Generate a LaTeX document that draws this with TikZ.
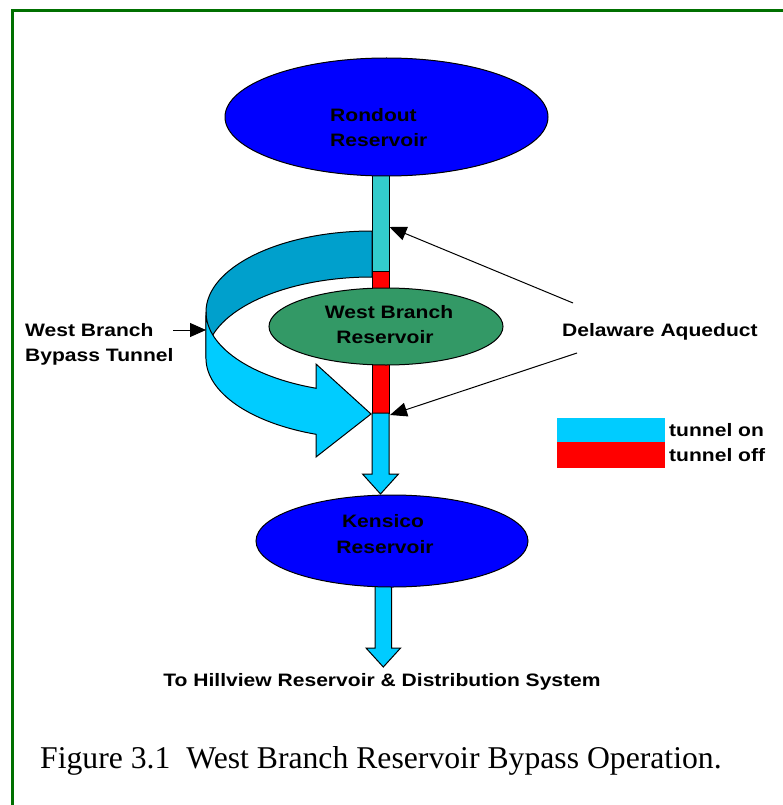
\documentclass[tikz,border=0pt]{standalone}
\usepackage{fontspec}
\setmainfont{Liberation Serif}
\newfontfamily\dfont[FakeStretch=1.17]{Liberation Sans}
\usetikzlibrary{shapes.geometric,arrows.meta}
\definecolor{frameg}{RGB}{0,112,0}
\definecolor{rblue}{RGB}{0,0,255}
\definecolor{wbgreen}{RGB}{51,153,102}
\definecolor{tealseg}{RGB}{51,204,204}
\definecolor{tcyan}{RGB}{0,204,255}
\definecolor{tback}{RGB}{0,160,204}
\definecolor{toff}{RGB}{255,0,0}
\tikzset{
  lbl/.style={font=\dfont\bfseries\fontsize{18}{20}\selectfont, inner sep=0pt, anchor=base west},
  lblc/.style={lbl, anchor=base},
  res/.style={ellipse, draw, line width=1pt, inner sep=0pt},
  seg/.style={draw, line width=1pt, line join=miter},
  ptr/.style={line width=1pt, -{Triangle[length=17pt,width=14pt]}},
}
\begin{document}
\begin{tikzpicture}[x=1pt,y=-1pt]
\useasboundingbox (0,0) rectangle (783,805);
\fill[white] (0,0) rectangle (783,805);
\draw[frameg, line width=3pt] (12,830) -- (12,10.5) -- (800,10.5);

% tunnel segments
\draw[seg, fill=tealseg] (372,170) rectangle (389,271);
\draw[seg, fill=toff] (372,271) rectangle (389,292);
\draw[seg, fill=toff] (372,360) rectangle (389,413);
% down arrow to Kensico
\draw[seg, fill=tcyan] (372,413) -- (372,474) -- (362.5,474) -- (380.5,494) -- (398.5,474) -- (389,474) -- (389,413) -- cycle;
% down arrow to Hillview
\draw[seg, fill=tcyan] (375,580) -- (375,648) -- (366,648) -- (383.3,667) -- (400.6,648) -- (391.7,648) -- (391.7,580) -- cycle;

% reservoirs
\node[res, fill=rblue, minimum width=323pt, minimum height=118pt] (rondout) at (386.5,117) {};
\node[res, fill=rblue, minimum width=272pt, minimum height=92pt] (kensico) at (392,541) {};

% bypass tunnel ribbon: back band
\draw[seg, fill=tback] (372,231) arc[start angle=270, end angle=180, x radius=166, y radius=81]
  -- (206,358) arc[start angle=180, end angle=270, x radius=166, y radius=81] -- cycle;
% front band with arrow head
\draw[seg, fill=tcyan] (206,312) arc[start angle=180, end angle=109.7, x radius=166, y radius=81]
  -- (316,364) -- (371,414) -- (316,457) -- (316,434.3)
  arc[start angle=109.7, end angle=180, x radius=166, y radius=81] -- cycle;

% West Branch reservoir
\node[res, fill=wbgreen, minimum width=234pt, minimum height=77pt] (wb) at (386,326.5) {};

% labels
\node[lbl] (r1) at (330,122) {Rondout};
\node[lbl] (r2) at (330,147) {Reservoir};
\node[lblc] (w1) at (389,318) {West Branch};
\node[lblc] (w2) at (385,343) {Reservoir};
\node[lblc] (k1) at (383,527) {Kensico};
\node[lblc] (k2) at (385,553) {Reservoir};
\node[lbl] (da) at (562,336.7) {Delaware Aqueduct};
\node[lbl] (bt1) at (25,336.7) {West Branch};
\node[lbl] (bt2) at (25,361.7) {Bypass Tunnel};
\node[lbl] (ton) at (669,436.7) {tunnel on};
\node[lbl] (toff) at (669,461.7) {tunnel off};
\node[lblc] (hv) at (382,686) {To Hillview Reservoir \& Distribution System};
\node[font=\fontsize{31.7}{36}\selectfont, inner sep=0pt, anchor=base west] (cap) at (40,768) {Figure 3.1~~West Branch Reservoir Bypass Operation.};

% legend
\fill[tcyan] (556.7,418.3) rectangle (665,441.7);
\fill[toff] (556.7,441.7) rectangle (665,467.7);

% pointers
\coordinate (daU) at (573,303);
\coordinate (daL) at (577,353);
\coordinate (tU) at (389.5,227);
\coordinate (tL) at (390,415);
\draw[ptr] (daU) -- (tU);
\draw[ptr] (daL) -- (tL);
\coordinate (btA) at (173,330);
\coordinate (btB) at (206,330);
\draw[line width=1pt, -{Triangle[length=16pt,width=14pt]}] (btA) -- (btB);
\end{tikzpicture}
\end{document}
